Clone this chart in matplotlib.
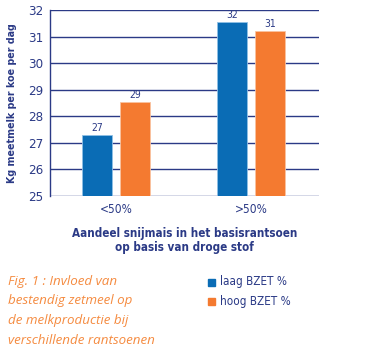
import numpy as np
import matplotlib.pyplot as plt
from matplotlib.patches import Rectangle

# data
categories = ["<50%", ">50%"]
laag = [27.3, 31.55]
hoog = [28.55, 31.2]
laag_labels = ["27", "32"]
hoog_labels = ["29", "31"]
series_names = ["laag BZET %", "hoog BZET %"]

BLUE = "#0a6cb5"
ORANGE = "#f47a30"
NAVY = "#2b3a86"
NARROW = dict(family="DejaVu Sans", stretch="condensed")

fig = plt.figure(figsize=(3.72, 3.63), dpi=100)
ax = fig.add_axes([50 / 372, 1 - 196 / 363, 269 / 372, 186 / 363])

x = np.arange(len(categories))
w = 0.222
off = 0.141
ax.bar(x - off, np.array(laag) - 25, w, bottom=25, color=BLUE, zorder=3,
       edgecolor="#8fc0e6", linewidth=0.6)
ax.bar(x + off, np.array(hoog) - 25, w, bottom=25, color=ORANGE, zorder=3,
       edgecolor="#f9c3a0", linewidth=0.6)

for xi, v, s in zip(x - off, laag, laag_labels):
    ax.text(xi, v + 0.08, s, ha="center", va="bottom", fontsize=7.5, color=NAVY,
            **NARROW)
for xi, v, s in zip(x + off, hoog, hoog_labels):
    ax.text(xi, v + 0.08, s, ha="center", va="bottom", fontsize=7.5, color=NAVY,
            **NARROW)

ax.set_xlim(-0.489, 1.504)
ax.set_ylim(25, 32)
ax.set_yticks(range(25, 33))
ax.yaxis.grid(True, color=NAVY, linewidth=1.0, zorder=0)
ax.set_axisbelow(True)
ax.set_xticks(x)
ax.set_xticklabels(categories, fontsize=8.6, color=NAVY, **NARROW)
ax.tick_params(axis="x", length=0, pad=5)
ax.tick_params(axis="y", length=0, pad=5, labelsize=9.5, labelcolor=NAVY)
for lbl in ax.get_yticklabels():
    lbl.set_fontstretch("condensed")
for side in ["top", "right", "bottom"]:
    ax.spines[side].set_visible(False)
ax.spines["left"].set_color(NAVY)
ax.spines["left"].set_linewidth(1.0)

ax.set_ylabel("Kg meetmelk per koe per dag", fontsize=7.7, fontweight="bold",
              color=NAVY, labelpad=8, **NARROW)
ax.set_xlabel("Aandeel snijmais in het basisrantsoen\nop basis van droge stof",
              fontsize=8.4, fontweight="bold", color=NAVY,
              labelpad=8, linespacing=1.1, **NARROW)

# caption
caption = ["Fig. 1 : Invloed van", "bestendig zetmeel op",
           "de melkproductie bij", "verschillende rantsoenen"]
for i, line in enumerate(caption):
    fig.text(8 / 372, 1 - (281 + i * 19.7) / 363, line, fontsize=9.6,
             color="#f58b40", style="italic", fontfamily=["Open Sans", "DejaVu Sans"],
             va="center", ha="left")

# legend
for i, (name, col) in enumerate(zip(series_names, [BLUE, ORANGE])):
    yc = 1 - (282 + i * 19.7) / 363
    fig.patches.append(Rectangle((208 / 372, yc - 3.5 / 363), 7 / 372, 7 / 363,
                                 transform=fig.transFigure, color=col))
    fig.text(220 / 372, yc, name, fontsize=8.4, color=NAVY,
             va="center", ha="left", **NARROW)

fig.savefig("out.png", dpi=100)
